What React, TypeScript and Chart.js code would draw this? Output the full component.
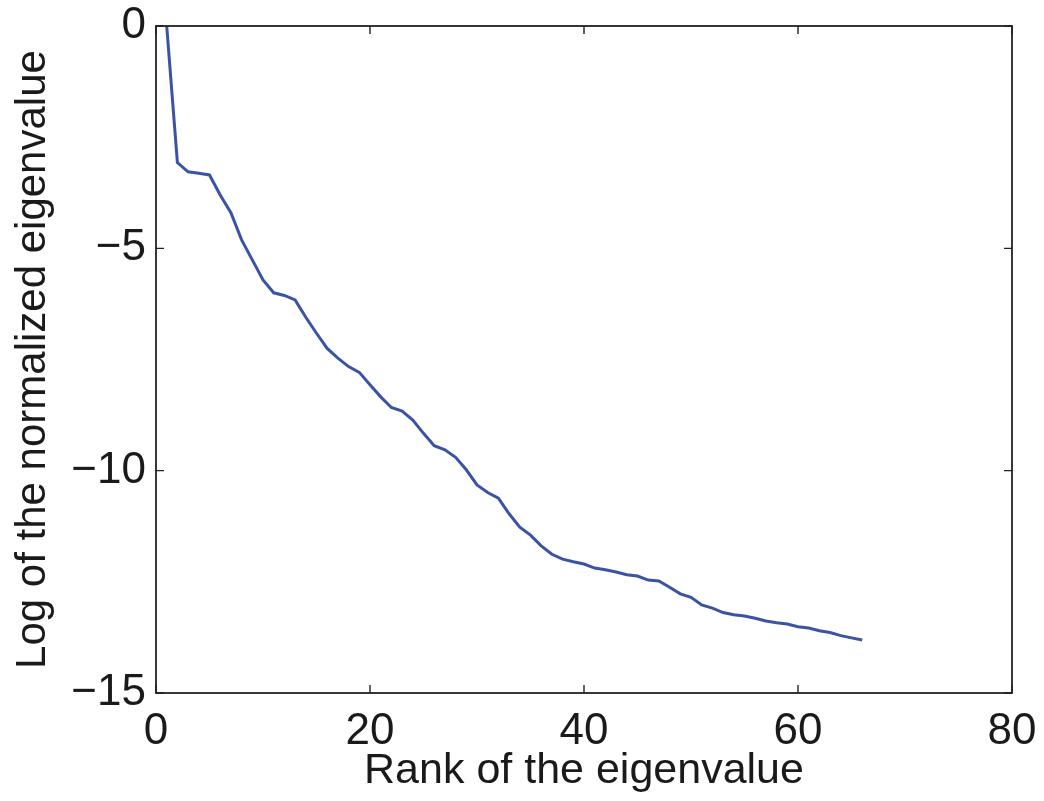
import React, { useEffect, useRef } from "react";
import { Chart, registerables } from "chart.js";

Chart.register(...registerables);

const ranks: number[] = Array.from({ length: 66 }, (_, i) => i + 1);
const logEigenvalues: number[] = [
  0.0, -3.07, -3.28, -3.31, -3.35, -3.8, -4.2, -4.81, -5.26, -5.71,
  -6.0, -6.06, -6.16, -6.55, -6.91, -7.25, -7.47, -7.66, -7.79, -8.07,
  -8.34, -8.58, -8.66, -8.86, -9.16, -9.44, -9.53, -9.7, -9.98, -10.32,
  -10.49, -10.62, -10.97, -11.27, -11.45, -11.69, -11.88, -11.99, -12.05, -12.1,
  -12.19, -12.23, -12.28, -12.34, -12.37, -12.46, -12.48, -12.62, -12.77, -12.85,
  -13.02, -13.09, -13.19, -13.24, -13.27, -13.32, -13.38, -13.42, -13.45, -13.51,
  -13.54, -13.6, -13.64, -13.71, -13.76, -13.81,
];
const xTicks: number[] = [0, 20, 40, 60, 80];
const yTicks: number[] = [0, -5, -10, -15];
const xTitle = "Rank of the eigenvalue";
const yTitle = "Log of the normalized eigenvalue";

const FONT = "'Liberation Sans', Arial, Helvetica, sans-serif";

const frameTicks = {
  id: "frameTicks",
  afterDraw(chart: any) {
    const { ctx, chartArea, scales } = chart;
    const { left, right, top, bottom } = chartArea;
    ctx.save();
    ctx.strokeStyle = "#222222";
    ctx.lineWidth = 1.8;
    ctx.strokeRect(left, top, right - left, bottom - top);
    const len = 8;
    ctx.lineWidth = 1.4;
    ctx.beginPath();
    for (const v of xTicks) {
      const x = scales.x.getPixelForValue(v);
      ctx.moveTo(x, bottom);
      ctx.lineTo(x, bottom - len);
      ctx.moveTo(x, top);
      ctx.lineTo(x, top + len);
    }
    for (const v of yTicks) {
      const y = scales.y.getPixelForValue(v);
      ctx.moveTo(left, y);
      ctx.lineTo(left + len, y);
      ctx.moveTo(right, y);
      ctx.lineTo(right - len, y);
    }
    ctx.stroke();
    ctx.restore();
  },
};

export default function App() {
  const ref = useRef<HTMLCanvasElement | null>(null);
  useEffect(() => {
    document.body.style.margin = "0";
    if (!ref.current) return;
    const chart = new Chart(ref.current, {
      type: "line",
      data: {
        datasets: [
          {
            data: ranks.map((r, i) => ({ x: r, y: logEigenvalues[i] })),
            borderColor: "#3a53a4",
            borderWidth: 3,
            pointRadius: 0,
            fill: false,
            tension: 0,
          },
        ],
      },
      options: {
        animation: false,
        responsive: false,
        layout: { padding: { left: 0, top: 26, right: 32, bottom: 0 } },
        plugins: { legend: { display: false }, tooltip: { enabled: false } },
        scales: {
          x: {
            type: "linear",
            min: 0,
            max: 80,
            afterFit: (s: any) => {
              s.height = 108;
              s.paddingLeft = 0;
              s.paddingRight = 0;
            },
            afterBuildTicks: (s: any) => {
              s.ticks = xTicks.map((v) => ({ value: v }));
            },
            grid: { display: false, drawTicks: false },
            border: { display: false },
            ticks: {
              padding: 12,
              color: "#1a1a1a",
              font: { family: FONT, size: 44 },
              maxRotation: 0,
              autoSkip: false,
            },
            title: {
              display: true,
              text: xTitle,
              color: "#1a1a1a",
              font: { family: FONT, size: 43 },
              padding: { top: 0, bottom: 4 },
            },
          },
          y: {
            type: "linear",
            min: -15,
            max: 0,
            afterFit: (s: any) => {
              s.width = 156;
              s.paddingTop = 0;
              s.paddingBottom = 0;
            },
            afterBuildTicks: (s: any) => {
              s.ticks = yTicks.map((v) => ({ value: v }));
            },
            grid: { display: false, drawTicks: false },
            border: { display: false },
            ticks: {
              padding: 10,
              color: "#1a1a1a",
              font: { family: FONT, size: 44 },
              autoSkip: false,
              callback: (v: any) => String(v).replace("-", "\u2212"),
            },
            title: {
              display: true,
              text: yTitle,
              color: "#1a1a1a",
              font: { family: FONT, size: 42 },
              padding: { top: 8, bottom: 0 },
            },
          },
        },
      },
      plugins: [frameTicks],
    });
    return () => chart.destroy();
  }, []);
  return (
    <div style={{ position: "absolute", left: 0, top: 0, width: 1044, height: 801, background: "#fff" }}>
      <canvas ref={ref} width={1044} height={801} style={{ display: "block" }} />
    </div>
  );
}
